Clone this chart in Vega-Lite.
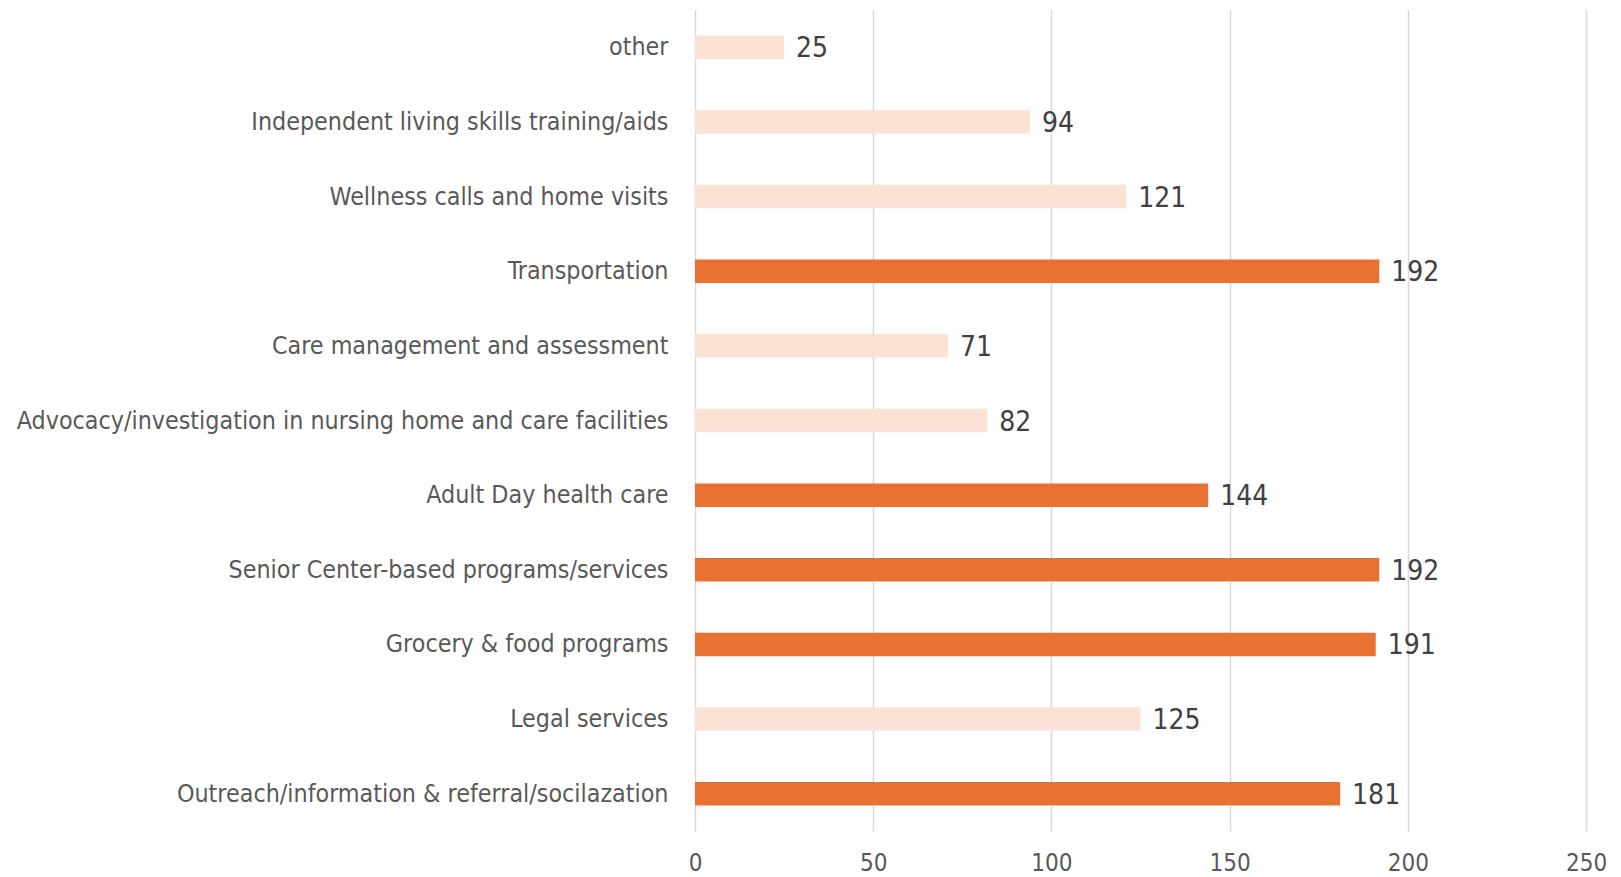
{
  "$schema": "https://vega.github.io/schema/vega-lite/v6.json",
  "width": 891,
  "height": 821,
  "autosize": {"type": "none"},
  "padding": {"left": 695, "top": 10, "right": 35, "bottom": 46},
  "background": "white",
  "config": {"view": {"stroke": null}, "font": "DejaVu Sans Condensed, Roboto, sans-serif"},
  "data": {"values": [
    {"category": "other", "value": 25, "group": "light"},
    {"category": "Independent living skills training/aids", "value": 94, "group": "light"},
    {"category": "Wellness calls and home visits", "value": 121, "group": "light"},
    {"category": "Transportation", "value": 192, "group": "dark"},
    {"category": "Care management and assessment", "value": 71, "group": "light"},
    {"category": "Advocacy/investigation in nursing home and care facilities", "value": 82, "group": "light"},
    {"category": "Adult Day health care", "value": 144, "group": "dark"},
    {"category": "Senior Center-based programs/services", "value": 192, "group": "dark"},
    {"category": "Grocery & food programs", "value": 191, "group": "dark"},
    {"category": "Legal services", "value": 125, "group": "light"},
    {"category": "Outreach/information & referral/socilazation", "value": 181, "group": "dark"}
  ]},
  "encoding": {
    "y": {"field": "category", "type": "nominal", "sort": null,
      "scale": {"paddingInner": 0.685, "paddingOuter": 0.3425},
      "axis": {"title": null, "domain": false, "ticks": false, "labelFontSize": 24.8, "labelColor": "#595959", "labelPadding": 27, "labelOffset": 1, "labelLimit": 700, "labelFont": "DejaVu Sans Condensed, Roboto, sans-serif"}},
    "x": {"field": "value", "type": "quantitative",
      "scale": {"domain": [0, 250]},
      "axis": {"title": null, "values": [0, 50, 100, 150, 200, 250], "domain": false, "ticks": false, "grid": true, "gridColor": "#d9d9d9", "gridWidth": 1.5, "labelFlush": false, "labelFontSize": 24, "labelColor": "#595959", "labelPadding": 20, "labelFont": "DejaVu Sans Condensed, Roboto, sans-serif"}}
  },
  "layer": [
    {"mark": {"type": "bar"},
     "encoding": {"color": {"field": "group", "type": "nominal", "scale": {"domain": ["dark", "light"], "range": ["#E97132", "#FBE2D5"]}, "legend": null}}},
    {"mark": {"type": "text", "align": "left", "baseline": "middle", "dx": 12, "dy": 2, "fontSize": 28, "color": "#404040", "font": "DejaVu Sans Condensed, Roboto, sans-serif"},
     "encoding": {"text": {"field": "value", "type": "quantitative"}}}
  ]
}
